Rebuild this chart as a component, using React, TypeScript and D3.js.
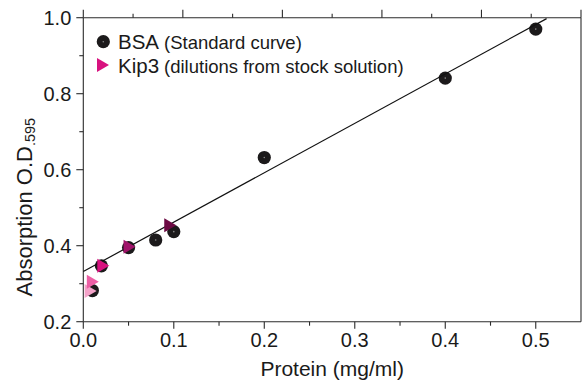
import React from "react";
import * as d3 from "d3";

// ---- data ----
const bsaProtein = [0.01, 0.02, 0.05, 0.08, 0.1, 0.2, 0.4, 0.5];
const bsaAbsorb = [0.282, 0.347, 0.395, 0.415, 0.437, 0.632, 0.841, 0.97];

const kipProtein = [0.007, 0.0094, 0.021, 0.05, 0.095];
const kipAbsorb = [0.281, 0.305, 0.347, 0.397, 0.454];
const kipColors = ["#f4a3c9", "#ec5fa5", "#d8127f", "#a0126a", "#6c0a43"];

const fitIntercept = 0.332;
const fitSlope = 1.3;
const fitRange = [0, 0.512];

const xMajorTicks = [0, 0.1, 0.2, 0.3, 0.4, 0.5];
const xMinorTicks = [0.05, 0.15, 0.25, 0.35, 0.45];
const yMajorTicks = [0.2, 0.4, 0.6, 0.8, 1.0];
const yMinorTicks = [0.3, 0.5, 0.7, 0.9];
const topTicks = [0, 1, 2, 3, 4, 5, 6, 7, 8, 9, 10];

const W = 582;
const H = 385;
const L = 83.3, R = 581, T = 17.7, B = 321.7;
const FONT = "'Liberation Sans', Arial, Helvetica, sans-serif";
const AX = "#2b2b2b";

export default function App() {
  const x = d3.scaleLinear().domain([0, 0.55]).range([L, R]);
  const y = d3.scaleLinear().domain([0.2, 1.0]).range([B, T]);
  const xTop = d3.scaleLinear().domain([0, 10]).range([L, R]);
  const fmt = d3.format(".1f");

  const fitLine = d3
    .line<number>()
    .x((d) => x(d))
    .y((d) => y(fitIntercept + fitSlope * d));

  const tri = (cx: number, cy: number) =>
    `M${cx - 5},${cy - 7}L${cx - 5},${cy + 7}L${cx + 7},${cy}Z`;

  return (
    <svg
      width={W}
      height={H}
      style={{ position: "absolute", left: 0, top: 0, background: "#fff" }}
      fontFamily={FONT}
    >
      <rect width={W} height={H} fill="#fff" />
      {/* axes frame */}
      <g stroke={AX} strokeWidth={1.1} fill="none">
        <line x1={L} x2={R} y1={B} y2={B} />
        <line x1={L} x2={R} y1={T} y2={T} />
        <line x1={L} x2={L} y1={T} y2={B} />
        <line x1={R} x2={R} y1={T} y2={B} />
        {xMajorTicks.map((t) => (
          <line key={"xm" + t} x1={x(t)} x2={x(t)} y1={B} y2={B + 7} />
        ))}
        {xMinorTicks.map((t) => (
          <line key={"xn" + t} x1={x(t)} x2={x(t)} y1={B} y2={B + 4} />
        ))}
        {yMajorTicks.map((t) => (
          <line key={"ym" + t} x1={L - 7} x2={L} y1={y(t)} y2={y(t)} />
        ))}
        {yMinorTicks.map((t) => (
          <line key={"yn" + t} x1={L - 4} x2={L} y1={y(t)} y2={y(t)} />
        ))}
        {topTicks.map((t) => (
          <line
            key={"tt" + t}
            x1={xTop(t)}
            x2={xTop(t)}
            y1={T}
            y2={T - (t % 2 === 0 ? 8 : 4)}
          />
        ))}
      </g>

      {/* tick labels */}
      <g fontSize={20} fill="#1a1a1a">
        {xMajorTicks.map((t) => (
          <text key={"xl" + t} x={x(t)} y={B + 25} textAnchor="middle">
            {fmt(t)}
          </text>
        ))}
        {yMajorTicks.map((t) => (
          <text
            key={"yl" + t}
            x={L - 12}
            y={y(t) + 7}
            textAnchor="end"
          >
            {fmt(t)}
          </text>
        ))}
      </g>

      {/* axis titles */}
      <text
        x={(L + R) / 2}
        y={375.5}
        textAnchor="middle"
        fontSize={21}
        fill="#1a1a1a"
      >
        Protein (mg/ml)
      </text>
      <text
        transform={`translate(31.5,296.5) rotate(-90)`}
        fontSize={22}
        fill="#1a1a1a"
      >
        Absorption O.D
        <tspan fontSize={14.5} dy={3}>
          .595
        </tspan>
      </text>

      {/* BSA circles */}
      <g>
        {bsaProtein.map((p, i) => (
          <g key={"b" + i}>
            <circle cx={x(p)} cy={y(bsaAbsorb[i])} r={6.6} fill="#1c1a1b" />
            <circle cx={x(p)} cy={y(bsaAbsorb[i])} r={0.8} fill="#8a8a8a" />
          </g>
        ))}
      </g>

      {/* fit line */}
      <path
        d={fitLine(fitRange) || ""}
        stroke="#111"
        strokeWidth={1.2}
        fill="none"
      />

      {/* Kip3 triangles */}
      <g>
        {kipProtein.map((p, i) => (
          <path key={"k" + i} d={tri(x(p), y(kipAbsorb[i]))} fill={kipColors[i]} />
        ))}
      </g>

      {/* legend */}
      <g fill="#1a1a1a">
        <circle cx={103.3} cy={41.7} r={6.6} fill="#1c1a1b" />
        <circle cx={103.3} cy={41.7} r={0.8} fill="#8a8a8a" />
        <text x={118} y={48.5} fontSize={20.5}>
          BSA
          <tspan fontSize={18.5} dx={5}>
            (Standard curve)
          </tspan>
        </text>
        <path d={tri(102, 65)} fill="#d8127f" />
        <text x={118} y={72.5} fontSize={20.5}>
          Kip3
          <tspan fontSize={18.5} dx={5}>
            (dilutions from stock solution)
          </tspan>
        </text>
      </g>
    </svg>
  );
}
